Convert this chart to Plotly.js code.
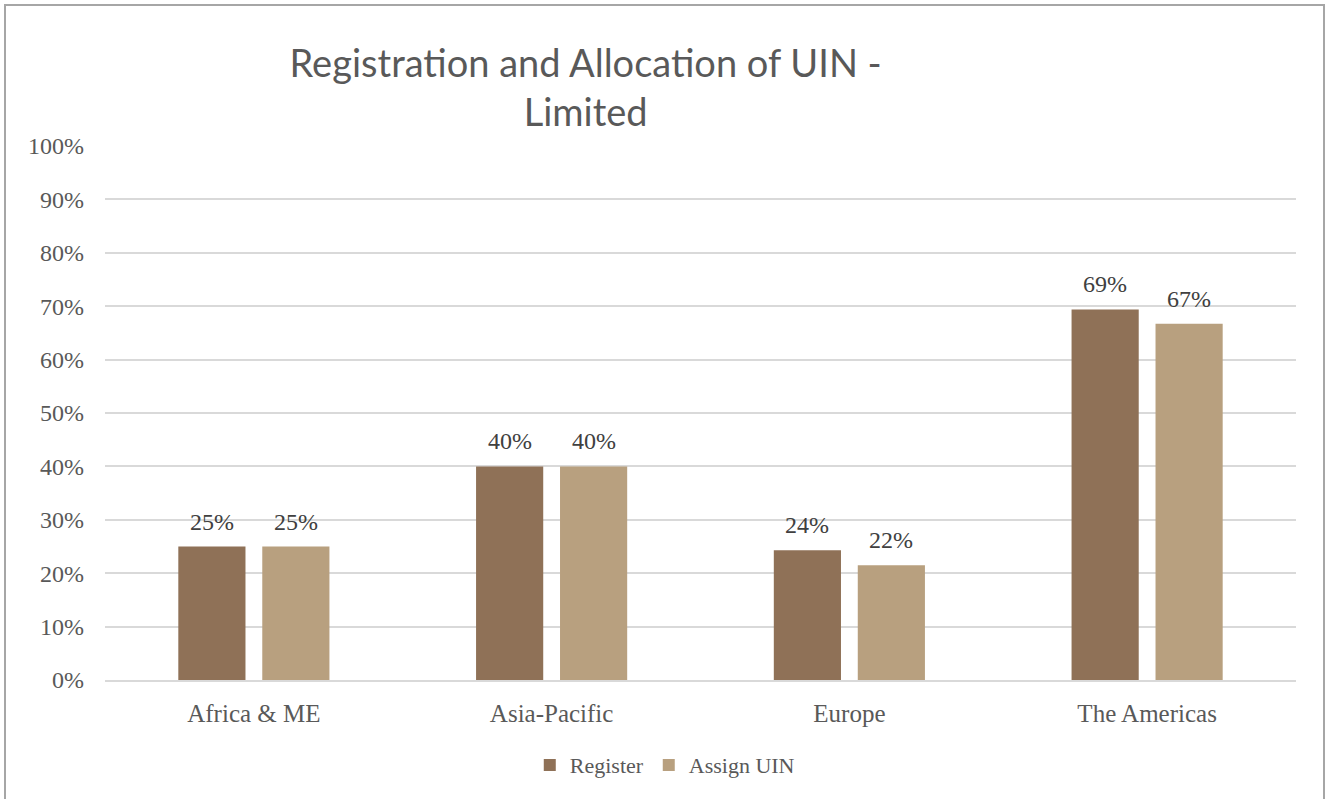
<!DOCTYPE html>
<html>
<head>
<meta charset="utf-8">
<script src="https://cdn.plot.ly/plotly-3.0.1.min.js"></script>
<style>
  html, body { margin: 0; padding: 0; background: #fff; }
  #chart { width: 1325px; height: 799px; position: absolute; left: 0; top: 0; }
  #frame { position: absolute; left: 4px; top: 4px; width: 1321px; height: 820px;
           border: 2px solid #a6a6a6; box-sizing: border-box; pointer-events: none; }
</style>
</head>
<body>
<div id="chart"></div>
<div id="frame"></div>
<script>
const categories = ["Africa & ME", "Asia-Pacific", "Europe", "The Americas"];
const seriesNames = ["Register", "Assign UIN"];
const registerValues = [0.25, 0.40, 0.243, 0.694];
const assignValues = [0.25, 0.40, 0.215, 0.667];
const colors = ["#8F7157", "#B8A07F"];

const serif = "Liberation Serif, DejaVu Serif, serif";
const allSeries = [registerValues, assignValues];

const traces = allSeries.map((vals, i) => ({
  type: "bar",
  name: seriesNames[i],
  x: categories,
  y: vals,
  marker: { color: colors[i] },
  hoverinfo: "skip"
}));

// data labels placed at each bar's top via the axes' scales
const pct = v => Math.round(v * 100) + "%";
const annotations = [];
allSeries.forEach((vals, i) => {
  vals.forEach((v, j) => {
    annotations.push({
      x: categories[j],
      y: v,
      xref: "x",
      yref: "y",
      text: pct(v),
      showarrow: false,
      xanchor: "center",
      yanchor: "bottom",
      xshift: i === 0 ? -42 : 42,
      yshift: 10,
      font: { family: serif, size: 24, color: "#404040" }
    });
  });
});

const layout = {
  width: 1325,
  height: 799,
  paper_bgcolor: "#ffffff",
  plot_bgcolor: "#ffffff",
  margin: { l: 105, r: 29, t: 146, b: 119 },
  title: {
    text: "Registration and Allocation of UIN -<br>Limited",
    font: { family: "Lato, Open Sans, sans-serif", size: 38, color: "#595959" },
    x: 0.442,
    xanchor: "center",
    y: 0.904,
    yanchor: "top"
  },
  annotations: annotations,
  barmode: "group",
  bargap: 0.436,
  bargroupgap: 0.2,
  xaxis: {
    type: "category",
    range: [-0.5, 3.5],
    showgrid: false,
    showline: true,
    linecolor: "#d9d9d9",
    linewidth: 2,
    ticks: "",
    ticklabelstandoff: 10,
    tickfont: { family: serif, size: 25, color: "#595959" },
    fixedrange: true
  },
  yaxis: {
    range: [0, 1],
    tickvals: [0, 0.1, 0.2, 0.3, 0.4, 0.5, 0.6, 0.7, 0.8, 0.9, 1.0],
    tickformat: ".0%",
    showgrid: true,
    gridcolor: "#d9d9d9",
    gridwidth: 2,
    zeroline: false,
    showline: false,
    ticks: "",
    ticklabelstandoff: 20,
    tickfont: { family: serif, size: 24, color: "#595959" },
    fixedrange: true
  },
  showlegend: true,
  legend: {
    orientation: "h",
    x: 0.47,
    xanchor: "center",
    y: -0.12,
    yanchor: "top",
    font: { family: serif, size: 22, color: "#595959" },
    itemwidth: 30,
    traceorder: "normal"
  }
};

Plotly.newPlot("chart", traces, layout, { displayModeBar: false, staticPlot: true });
</script>
</body>
</html>
